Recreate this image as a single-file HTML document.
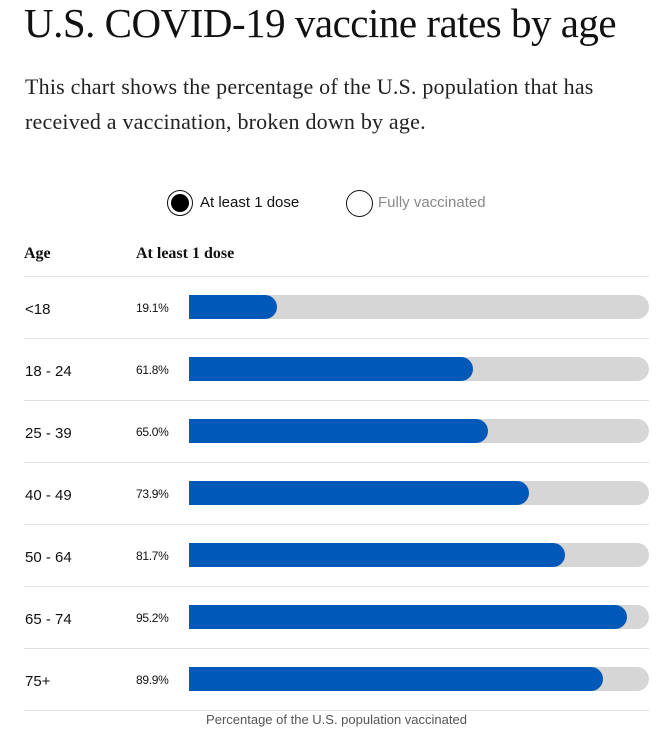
<!DOCTYPE html>
<html><head><meta charset="utf-8"><style>
body{margin:0;width:666px;height:739px;background:#fff;overflow:hidden;font-family:"Liberation Sans",sans-serif;color:#111;position:relative}
.a{position:absolute}
h1{position:absolute;left:24px;top:-1px;margin:0;font-family:"Liberation Serif",serif;font-weight:normal;font-size:41px;letter-spacing:-0.5px;white-space:nowrap}
.sub{left:25px;top:69px;font-family:"Liberation Serif",serif;font-size:22px;line-height:35px;color:#222;letter-spacing:0.2px;white-space:nowrap}
.line{left:24px;width:625px;height:1px;background:#e2e2e2}
.lab{left:25px;font-size:15px}
.pct{left:136px;font-size:12px;letter-spacing:-0.3px}
.bg{left:189px;width:460px;height:24px;background:#d6d6d6;border-radius:0 12px 12px 0}
.fg{left:189px;height:24px;background:#0058b8;border-radius:0 12px 12px 0}
</style></head><body>
<h1>U.S. COVID-19 vaccine rates by age</h1>
<div class="a sub">This chart shows the percentage of the U.S. population that has<br>received a vaccination, broken down by age.</div>
<div class="a" style="left:167px;top:190px;width:26px;height:26px;border:1.5px solid #111;border-radius:50%;box-sizing:border-box"></div>
<div class="a" style="left:171px;top:194px;width:18px;height:18px;background:#000;border-radius:50%"></div>
<div class="a" style="left:200px;top:194px;font-size:15px">At least 1 dose</div>
<div class="a" style="left:346px;top:190px;width:27px;height:27px;border:1.5px solid #111;border-radius:50%;box-sizing:border-box"></div>
<div class="a" style="left:378px;top:194px;font-size:15px;color:#888">Fully vaccinated</div>
<div class="a" style="left:24px;top:245px;font-family:'Liberation Serif',serif;font-weight:bold;font-size:16px">Age</div>
<div class="a" style="left:136px;top:245px;font-family:'Liberation Serif',serif;font-weight:bold;font-size:16px">At least 1 dose</div>
<div class="a line" style="top:276px"></div>
<div id="rows"></div>
<div class="a" style="left:0;width:673px;top:712px;text-align:center;font-size:13px;color:#555">Percentage of the U.S. population vaccinated</div>
<script>
var d=[["<18",19.1],["18 - 24",61.8],["25 - 39",65.0],["40 - 49",73.9],["50 - 64",81.7],["65 - 74",95.2],["75+",89.9]];
var h="";
d.forEach(function(r,i){var y=276+i*62;
h+='<div class="a lab" style="top:'+(y+25)+'px">'+r[0].replace("<","&lt;")+'</div>';
h+='<div class="a pct" style="top:'+(y+25)+'px">'+r[1].toFixed(1)+'%</div>';
h+='<div class="a bg" style="top:'+(y+19)+'px"></div>';
h+='<div class="a fg" style="top:'+(y+19)+'px;width:'+(r[1]*4.6).toFixed(0)+'px"></div>';
h+='<div class="a line" style="top:'+(y+62)+'px"></div>';});
document.getElementById("rows").innerHTML=h;
</script>
</body></html>
